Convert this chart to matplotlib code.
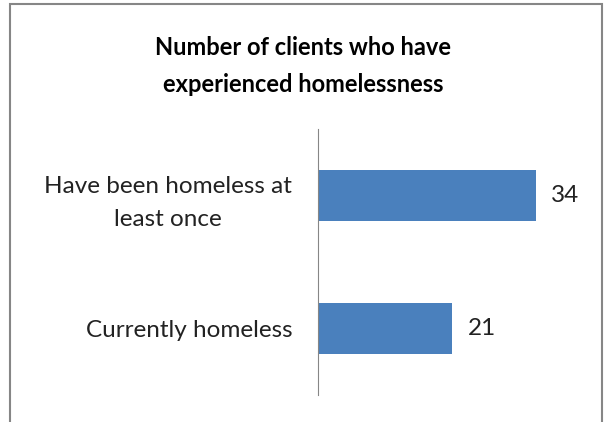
import matplotlib.pyplot as plt
from matplotlib.patches import Rectangle

categories = ["Currently homeless", "Have been homeless at\nleast once"]
values = [21, 34]
title = "Number of clients who have\nexperienced homelessness"

plt.rcParams["font.family"] = ["Lato", "DejaVu Sans"]

W, H = 605, 422
fig = plt.figure(figsize=(W / 100, H / 100), dpi=100)

# chart border (bottom edge is cut off in the reference)
fig.patches.append(
    Rectangle((10 / W, -0.05), 592 / W, 1.05 - 4 / H, transform=fig.transFigure,
              fill=False, edgecolor="#868686", linewidth=1.5)
)

ax = fig.add_axes([318 / W, 1 - 395 / H, 256 / W, 266 / H])
ax.barh(range(len(values)), values, height=0.39, color="#4a80bd")
ax.set_xlim(0, 40)
ax.set_ylim(-0.5, 1.5)
for s in ["top", "right", "bottom"]:
    ax.spines[s].set_visible(False)
ax.spines["left"].set_color("#868686")
ax.set_xticks([])
ax.set_yticks(range(len(categories)))
ax.set_yticklabels(categories, fontsize=17.5, color="#222222", ha="right",
                   multialignment="center", linespacing=1.7)
ax.tick_params(axis="y", length=0, pad=18.5)

for i, v in enumerate(values):
    ax.text(v + 2.4, i, str(v), va="center", ha="left", fontsize=17.5, color="#222222")

fig.text(303 / W, 1 - 66 / H, title, ha="center", va="center", fontsize=17,
         fontweight="bold", linespacing=1.7, color="black")

fig.savefig("out.png", dpi=100)
